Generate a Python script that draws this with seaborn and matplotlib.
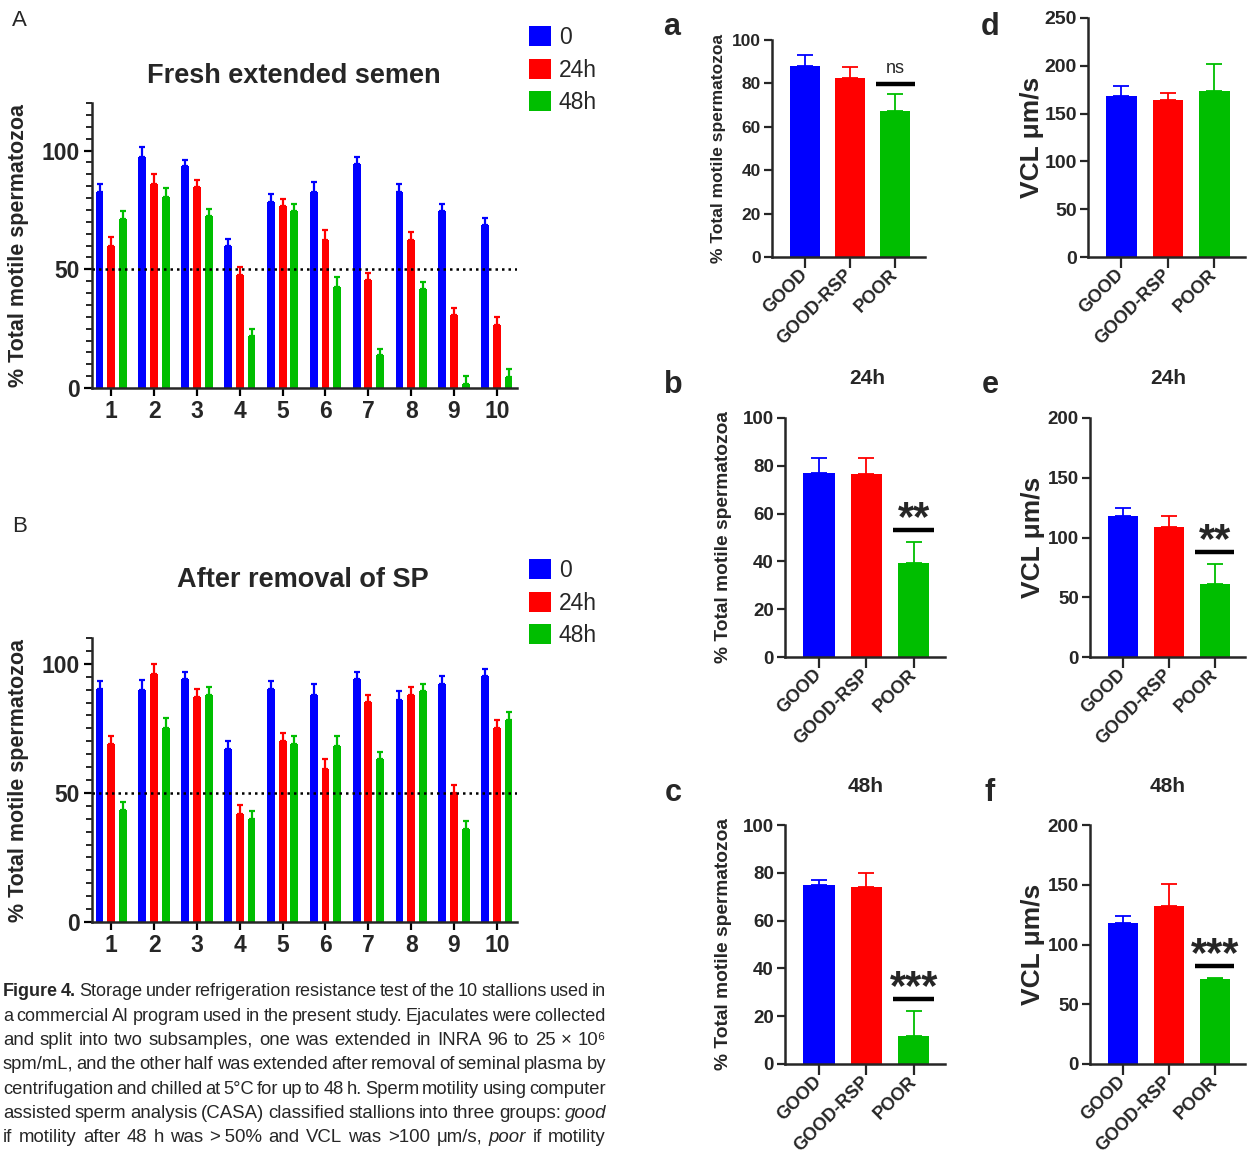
import matplotlib
matplotlib.use('Agg')
import matplotlib.pyplot as plt
import seaborn as sns
import numpy as np
import pandas as pd
from matplotlib.patches import Patch
from matplotlib.ticker import MultipleLocator

# ---- panel A / B : per stallion motility (mean, sem) ----
stallions = ['1', '2', '3', '4', '5', '6', '7', '8', '9', '10']
times = ['0', '24h', '48h']

fresh_0 = [82.5, 97.2, 93.4, 59.6, 78.5, 82.5, 94.4, 82.5, 74.5, 68.5]
fresh_24 = [60.0, 86.0, 84.5, 47.7, 76.5, 62.5, 45.6, 62.5, 30.8, 26.6]
fresh_48 = [71.3, 80.4, 72.6, 21.7, 74.5, 42.7, 13.8, 41.7, 1.8, 4.8]
fresh_0_sem = [3.2, 4.2, 2.8, 3.1, 3.2, 4.1, 2.9, 3.2, 3.1, 3.0]
fresh_24_sem = [3.4, 4.2, 2.9, 3.1, 3.1, 4.2, 2.9, 3.2, 3.0, 3.1]
fresh_48_sem = [3.2, 3.9, 2.8, 3.2, 3.1, 4.2, 2.8, 3.1, 3.1, 3.0]

sp_0 = [90.1, 89.7, 94.2, 67.1, 90.1, 88.1, 94.2, 86.1, 92.1, 95.1]
sp_24 = [69.0, 95.9, 87.1, 41.9, 70.1, 59.1, 85.2, 88.1, 49.9, 75.1]
sp_48 = [43.2, 75.1, 88.1, 40.0, 69.0, 68.1, 63.0, 89.3, 36.1, 78.1]
sp_0_sem = [3.1, 4.0, 2.8, 3.1, 3.1, 4.2, 2.8, 3.2, 3.1, 3.0]
sp_24_sem = [3.1, 4.2, 3.0, 3.3, 3.1, 4.1, 2.8, 3.1, 3.3, 3.0]
sp_48_sem = [3.3, 4.0, 2.9, 3.0, 3.1, 4.0, 2.8, 3.0, 3.0, 3.1]

# ---- panels a-f : stallion groups ----
groups = ['GOOD', 'GOOD-RSP', 'POOR']
motility_0h = [88.0, 82.4, 67.4]
motility_0h_sem = [5.0, 5.3, 7.5]
vcl_0h = [168.5, 164.7, 174.1]
vcl_0h_sem = [10.1, 7.0, 27.9]
motility_24h = [77.0, 76.6, 39.3]
motility_24h_sem = [6.1, 6.5, 8.7]
vcl_24h = [118.2, 108.4, 61.2]
vcl_24h_sem = [6.4, 9.5, 16.8]
motility_48h = [74.8, 74.2, 11.7]
motility_48h_sem = [2.2, 5.8, 10.3]
vcl_48h = [117.8, 132.0, 71.0]
vcl_48h_sem = [6.4, 18.7, 0.9]

caption = [
    "**Figure** **4.** Storage under refrigeration resistance test of the 10 stallions used in",
    "a commercial AI program used in the present study. Ejaculates were collected",
    "and split into two subsamples, one was extended in INRA 96 to 25 \u00d7 10\u2076",
    "spm/mL, and the other half was extended after removal of seminal plasma by",
    "centrifugation and chilled at 5\u00b0C for up to 48 h. Sperm motility using computer",
    "assisted sperm analysis (CASA) classified stallions into three groups: *good*",
    "if motility after 48 h was >\u200950% and VCL was >100 \u03bcm/s, *poor* if motility",
]

colors = ['#0000FF', '#FF0000', '#00BE00']

sns.set_style('ticks')
plt.rcParams['font.family'] = ['Liberation Sans', 'DejaVu Sans']
plt.rcParams['font.weight'] = 'bold'
plt.rcParams['axes.labelweight'] = 'bold'
plt.rcParams['axes.linewidth'] = 1.8

W, H = 1247, 1153
fig = plt.figure(figsize=(W / 100, H / 100), dpi=100)


def add_axes(x0, y0, x1, y1):
    return fig.add_axes([x0 / W, 1 - y1 / H, (x1 - x0) / W, (y1 - y0) / H])


def ftext(x, y, s, **kw):
    return fig.text(x / W, 1 - y / H, s, **kw)


def stallion_panel(ax, means, sems, ymax):
    df = pd.DataFrame({
        'stallion': np.tile(stallions, len(times)),
        'time': np.repeat(times, len(stallions)),
        'value': np.concatenate(means),
    })
    sns.barplot(data=df, x='stallion', y='value', hue='time', palette=colors,
                width=0.82, gap=0.33, saturation=1, errorbar=None, linewidth=0,
                legend=False, ax=ax)
    for cont, sem, c in zip(ax.containers, sems, colors):
        xs = [p.get_x() + p.get_width() / 2 for p in cont]
        hs = [p.get_height() for p in cont]
        ax.errorbar(xs, hs, yerr=[np.zeros(len(sem)), sem], fmt='none',
                    ecolor=c, elinewidth=1.6, capsize=2.5, capthick=1.6)
    ax.axhline(50, color='black', ls=(0, (1, 1.6)), lw=1.8, zorder=5)
    ax.set_xlim(-0.45, 9.47)
    ax.set_ylim(0, ymax)
    ax.yaxis.set_major_locator(MultipleLocator(50))
    ax.yaxis.set_minor_locator(MultipleLocator(5))
    ax.tick_params(axis='both', which='major', length=6, width=1.6,
                   labelsize=16.5, pad=3, color='black')
    ax.tick_params(axis='y', which='minor', length=4, width=1.4)
    ax.set_xlabel('')
    ax.set_ylabel('% Total motile spermatozoa', fontsize=15.5)
    ax.yaxis.set_label_coords(-0.148, 0.5)
    sns.despine(ax=ax)


def group_panel(ax, means, sems, ymax, ystep, ylabel, label_size, tick_size,
                label_x, sig=None):
    sns.barplot(x=groups, y=means, hue=groups, palette=colors, width=0.66,
                saturation=1, linewidth=0, legend=False, ax=ax)
    for p in ax.patches:
        i = int(round(p.get_x() + p.get_width() / 2))
        ax.errorbar([i], [means[i]], yerr=[[0], [sems[i]]], fmt='none',
                    ecolor=colors[i], elinewidth=1.3, capsize=5.5, capthick=1.3)
    if sig is not None:
        top = means[2] + sems[2] + 0.05 * ymax
        ax.plot([2 - 0.43, 2 + 0.43], [top, top], color='black', lw=3.2,
                solid_capstyle='butt', clip_on=False)
        if sig == 'ns':
            ax.annotate(sig, (2, top), xytext=(0, 5), textcoords='offset points',
                        ha='center', va='bottom', fontsize=13,
                        fontweight='normal')
        else:
            ax.annotate(sig, (2, top), xytext=(0, -6.5), textcoords='offset points',
                        ha='center', va='bottom', fontsize=30, fontweight='bold')
    ax.set_xlim(-0.72, 2.66)
    ax.set_ylim(0, ymax)
    ax.yaxis.set_major_locator(MultipleLocator(ystep))
    ax.tick_params(axis='x', length=8, width=1.6, labelsize=13, pad=3)
    ax.tick_params(axis='y', length=6, width=1.6, labelsize=tick_size, pad=2)
    plt.setp(ax.get_xticklabels(), rotation=45, ha='right', va='center',
             rotation_mode='anchor')
    ax.set_ylabel(ylabel, fontsize=label_size)
    ax.yaxis.set_label_coords(label_x, 0.5)
    sns.despine(ax=ax)


# ---- A ----
axA = add_axes(92, 103, 517, 388)
stallion_panel(axA, [fresh_0, fresh_24, fresh_48],
               [fresh_0_sem, fresh_24_sem, fresh_48_sem], 120)
ftext(294, 76, 'Fresh extended semen', ha='center', va='center', fontsize=19.5)
ftext(12, 20, 'A', ha='left', va='center', fontsize=16, fontweight='normal')

# ---- B ----
axB = add_axes(92, 638, 517, 922)
stallion_panel(axB, [sp_0, sp_24, sp_48], [sp_0_sem, sp_24_sem, sp_48_sem], 110)
ftext(303, 580, 'After removal of SP', ha='center', va='center', fontsize=19.5)
ftext(12, 527, 'B', ha='left', va='center', fontsize=16, fontweight='normal')

handles = [Patch(facecolor=c, edgecolor='none') for c in colors]
for ax, ytop in [(axA, 26), (axB, 559)]:
    leg = ax.legend(handles, times, loc='upper left',
                    bbox_to_anchor=(529 / W, 1 - ytop / H),
                    bbox_transform=fig.transFigure, frameon=False,
                    handlelength=0.95, handleheight=0.95, labelspacing=0.42,
                    handletextpad=0.35, borderpad=0, borderaxespad=0,
                    prop={'size': 16.5, 'weight': 'normal'})

# ---- a-f ----
ax_a = add_axes(772, 40, 925, 257)
group_panel(ax_a, motility_0h, motility_0h_sem, 100, 20,
            '% Total motile spermatozoa', 12.5, 12.5, -0.3, 'ns')
ax_d = add_axes(1088, 18, 1245, 257)
group_panel(ax_d, vcl_0h, vcl_0h_sem, 250, 50, 'VCL \u03bcm/s', 19, 14, -0.28)
ax_b = add_axes(785, 418, 945, 657)
group_panel(ax_b, motility_24h, motility_24h_sem, 100, 20,
            '% Total motile spermatozoa', 13.8, 13.5, -0.33, '**')
ax_e = add_axes(1090, 418, 1245, 657)
group_panel(ax_e, vcl_24h, vcl_24h_sem, 200, 50, 'VCL \u03bcm/s', 19, 13.5, -0.29, '**')
ax_c = add_axes(785, 825, 945, 1064)
group_panel(ax_c, motility_48h, motility_48h_sem, 100, 20,
            '% Total motile spermatozoa', 13.8, 13.5, -0.33, '***')
ax_f = add_axes(1090, 825, 1245, 1064)
group_panel(ax_f, vcl_48h, vcl_48h_sem, 200, 50, 'VCL \u03bcm/s', 19, 13.5, -0.29, '***')

for x, y, s in [(672, 27, 'a'), (990, 27, 'd'), (673, 385, 'b'),
                (990, 385, 'e'), (673, 793, 'c'), (990, 793, 'f')]:
    ftext(x, y, s, ha='center', va='center', fontsize=22)
for x, y, s in [(867, 378, '24h'), (1168, 378, '24h'),
                (866, 786, '48h'), (1168, 786, '48h')]:
    ftext(x, y, s, ha='center', va='center', fontsize=15)

# ---- caption, justified ----
renderer = fig.canvas.get_renderer()
for k, line in enumerate(caption):
    y = 992 + k * 24.3
    words = []
    for word in line.split(' '):
        kw = {'fontweight': 'normal', 'fontstyle': 'normal'}
        if word.startswith('**'):
            word = word.strip('*')
            kw['fontweight'] = 'bold'
        elif word.startswith('*'):
            end = word.rfind('*')
            word = word[1:end] + word[end + 1:]
            kw['fontstyle'] = 'italic'
        words.append((word, kw))
    size = 13.4
    while True:
        arts = [ftext(0, y, w, ha='left', va='center', fontsize=size, **kw)
                for w, kw in words]
        widths = [a.get_window_extent(renderer).width for a in arts]
        gap = (606 - 3 - sum(widths)) / (len(arts) - 1)
        if gap >= 3.0 or size < 9:
            break
        for a in arts:
            a.remove()
        size -= 0.2
    x = 3
    for a, w in zip(arts, widths):
        a.set_x(x / W)
        x += w + gap

fig.savefig('out.png', dpi=100)
